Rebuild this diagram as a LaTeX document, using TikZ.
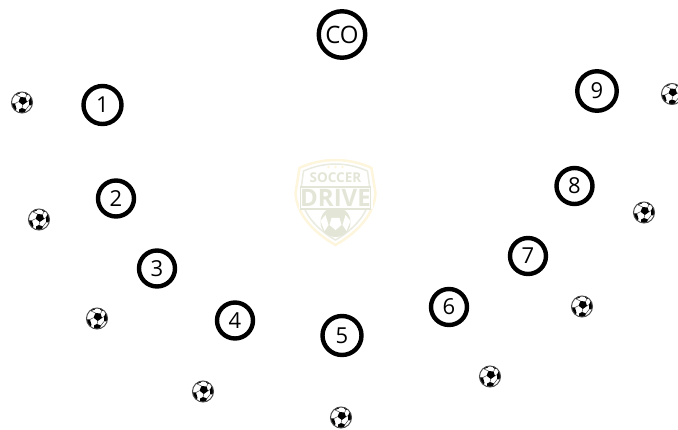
\documentclass[tikz,border=0pt]{standalone}
\usepackage{fontspec}
\setmainfont{Open Sans}
\definecolor{lgreen}{HTML}{E3E6D6}
\definecolor{lcream}{HTML}{FDF5DC}
\definecolor{lline}{HTML}{E9EBE0}
\tikzset{
  player/.style={circle,draw=black,line width=4.4pt,fill=white,inner sep=0pt,minimum size=#1,font=\fontsize{22}{22}\selectfont,text=black}
}
\newcommand{\sball}[1]{%
  \begin{scope}[shift={(#1)}]
    \fill[white] (0,0) circle (10.5);
    \begin{scope}
      \clip (0,0) circle (10.5);
      \fill[black] (-1.5,-5.5)--(3.5,-5)--(5,-0.5)--(0.8,2.5)--(-3.5,-0.8)--cycle;
      \fill[black] (-11,1)--(-7,1)--(-5.5,6.5)--(-9,11)--(-12,6)--cycle;
      \fill[black] (-3,11)--(2.5,11)--(4,7)--(0,5.5)--(-3,7)--cycle;
      \fill[black] (7,3)--(12,3)--(12,-5)--(9,-6)--(7,-2)--cycle;
      \fill[black] (-8,-11)--(-3,-11)--(-2,-9)--(-6,-7.5)--(-9,-8)--cycle;
      \fill[black] (3,-11)--(7,-10)--(8,-8)--(5,-7.5)--(3,-9)--cycle;
      \draw[black!75,line width=.5pt] (-1.5,-5.5)--(-6,-7.5) (3.5,-5)--(5,-7.5) (5,-.5)--(7,-2) (.8,2.5)--(0,5.5) (-3.5,-.8)--(-7,1) (4,7)--(7,3);
    \end{scope}
    \draw[black!70,line width=1pt] (0,0) circle (10.5);
  \end{scope}}
\begin{document}
\begin{tikzpicture}[x=1pt,y=-1pt]
\useasboundingbox (0,0) rectangle (678,430);
\clip (0,0) rectangle (678,430);
% logo
\coordinate (lg) at (335.5,201);
\begin{scope}[shift={(lg)}]
  \fill[white,draw=lcream,line width=2.5pt] (0,-41) .. controls (12,-41) and (26,-38) .. (36,-33)
    -- (40,-8) .. controls (39,12) and (24,30) .. (0,44)
    .. controls (-24,30) and (-39,12) .. (-40,-8) -- (-36,-33) .. controls (-26,-38) and (-12,-41) .. (0,-41) -- cycle;
  \draw[lline,line width=1.5pt] (0,-37) .. controls (12,-37) and (23,-34) .. (32,-30)
    -- (35,-8) .. controls (34,10) and (21,27) .. (0,39)
    .. controls (-21,27) and (-34,10) .. (-35,-8) -- (-32,-30) .. controls (-23,-34) and (-12,-37) .. (0,-37) -- cycle;
  % ball of the crest
  \fill[lgreen] (0,21) circle (15);
  \fill[white] (-4,17) -- (4,17) -- (6,24) -- (0,29) -- (-6,24) -- cycle;
  \fill[white] (-15,20) -- (-10,14) -- (-7,24) -- (-11,30) -- cycle;
  \fill[white] (15,20) -- (10,14) -- (7,24) -- (11,30) -- cycle;
  \fill[white] (-37,-15) rectangle (37,8);
  \draw[lgreen,line width=1.6pt] (-35,-14) rectangle (35,8);
  \node[text=lgreen,font=\bfseries\fontsize{13.5}{13.5}\selectfont] (soccer) at (0,-23) {SOCCER};
  \node[text=lgreen,font=\bfseries\fontsize{24}{24}\selectfont] (drive) at (0,-3) {DRIVE};
  \foreach \i in {-7,0,7}{\fill[lcream] (\i,-34) circle (1.3);}
\end{scope}
% players
\node[player=46.5pt,font=\fontsize{24}{24}\selectfont] (co) at (342,34.5) {CO};
\node[player=38pt] (p1) at (102.5,105) {1};
\node[player=36pt] (p2) at (116,198.5) {2};
\node[player=36pt] (p3) at (157,268.5) {3};
\node[player=36pt] (p4) at (235,320.5) {4};
\node[player=39pt] (p5) at (342,335.5) {5};
\node[player=36pt] (p6) at (449,307) {6};
\node[player=36pt] (p7) at (528,256) {7};
\node[player=36pt] (p8) at (574.5,186) {8};
\node[player=39.5pt] (p9) at (597,91) {9};
% balls
\foreach \bx/\by in {22/102.5,39/219.5,97/318.5,203/391.5,341/417.5,490/376.5,582/306.5,644/212.5,672/94}{
  \sball{\bx,\by}
}
\end{tikzpicture}
\end{document}
